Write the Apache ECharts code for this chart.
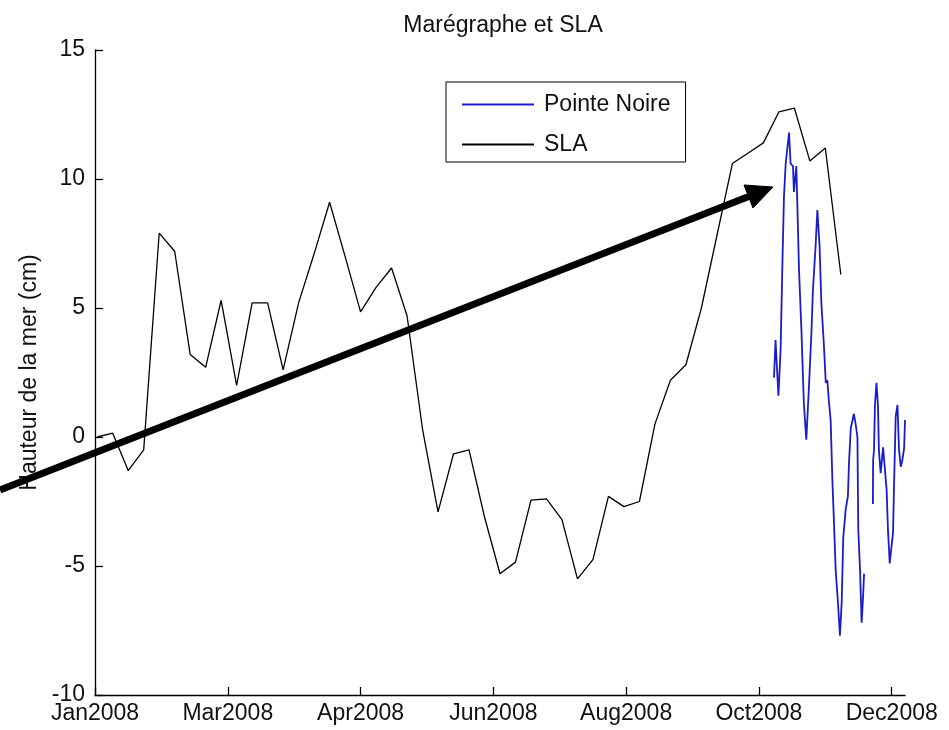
<!DOCTYPE html>
<html>
<head>
<meta charset="utf-8">
<script src="https://cdn.jsdelivr.net/npm/echarts@6/dist/echarts.min.js"></script>
<style>
  html, body { margin: 0; padding: 0; background: #fff; }
  #chart { width: 949px; height: 730px; }
</style>
</head>
<body>
<div id="chart"></div>
<script>
// ---- data (days since 1 Jan 2008) ----
var tickDays = [0, 60, 120, 180, 240, 300, 360];
var tickLabels = ['Jan2008', 'Mar2008', 'Apr2008', 'Jun2008', 'Aug2008', 'Oct2008', 'Dec2008'];

var slaDays = [1, 8, 15, 22, 29, 36, 43, 50, 57, 64, 71, 78, 85, 92, 99, 106, 113, 120, 127, 134,
  141, 148, 155, 162, 169, 176, 183, 190, 197, 204, 211, 218, 225, 232, 239, 246, 253, 260, 267,
  274, 281, 288, 295, 302, 309, 316, 323, 330, 337];
var slaValues = [0.0, 0.15, -1.3, -0.5, 7.9, 7.2, 3.2, 2.7, 5.3, 2.0, 5.2, 5.2, 2.6, 5.2, 7.1, 9.1,
  7.0, 4.85, 5.8, 6.55, 4.7, 0.3, -2.9, -0.65, -0.5, -3.1, -5.3, -4.85, -2.45, -2.4, -3.2, -5.5,
  -4.75, -2.3, -2.7, -2.5, 0.5, 2.2, 2.8, 5.0, 7.8, 10.6, 11.0, 11.4, 12.6, 12.75, 10.7, 11.2, 6.3];

var pnDays = [306.8, 307.5, 308.8, 309.8, 310.6, 311.3, 312.1, 313.6, 314.3, 315.4, 315.8, 316.9,
  317.3, 318.1, 319.2, 320.3, 321.4, 322.6, 323.7, 324.4, 325.6, 326.4, 327.4, 328.2, 329.4, 330.2,
  330.9, 331.6, 332.4, 333.2, 333.9, 334.7, 335.7, 336.6, 337.4, 338.1, 339.2, 340.2, 340.7, 341.5,
  342.9, 343.7, 344.5, 344.9, 345.7, 346.4, 347.0, 347.5, 349.5, 351.5, 351.6, 352.0, 352.4, 353.1,
  353.8, 354.2, 355.0, 356.1, 357.0, 357.7, 358.3, 359.1, 359.9, 360.6, 361.0, 361.8, 362.6, 363.3,
  364.1, 364.8, 365.6, 366.0];
var pnValues = [2.3, 3.76, 1.6, 3.4, 6.7, 9.3, 10.6, 11.8, 10.6, 10.5, 9.5, 10.5,
  9.2, 6.5, 4.15, 1.3, -0.1, 1.95, 4.0, 5.7, 7.4, 8.8, 7.4, 5.2, 3.5, 2.1,
  2.2, 1.4, 0.66, -1.7, -3.3, -5.2, -6.4, -7.7, -6.4, -3.9, -2.8, -2.3, -1.0, 0.34,
  0.9, 0.5, 0.0, -3.6, -5.2, -7.2, -6.3, -5.3, null, -2.6, -0.9, -0.5, 1.2, 2.1,
  1.2, -0.5, -1.4, -0.4, -0.4, -2.05, -3.6, -4.9, -4.25, -3.7, -2.05, 0.8, 1.24, -0.5,
  -1.15, -0.9, -0.44, 0.66];

var titleText = 'Marégraphe et SLA';
var yName = 'Hauteur de la mer (cm)';
var seriesNames = ['Pointe Noire', 'SLA'];

function pairs(xs, ys) {
  return xs.map(function (x, i) { return [x, ys[i] === null ? '-' : ys[i]]; });
}

var FONT = '"Liberation Sans", Arial, sans-serif';
var chart = echarts.init(document.getElementById('chart'), null, { renderer: 'canvas' });

chart.setOption({
  backgroundColor: '#ffffff',
  animation: false,
  textStyle: { fontFamily: FONT },
  title: {
    text: titleText,
    left: 498,
    top: 9,
    textAlign: 'center',
    textStyle: { fontFamily: FONT, fontSize: 23, fontWeight: 'normal', color: '#111' }
  },
  legend: {
    orient: 'vertical',
    left: 446,
    top: 82,
    padding: [11, 15, 6, 16],
    icon: 'rect',
    itemWidth: 72,
    itemHeight: 2,
    itemGap: 17,
    borderColor: '#000',
    borderWidth: 1,
    borderRadius: 0,
    backgroundColor: '#fff',
    textStyle: { fontFamily: FONT, fontSize: 23, color: '#111', padding: [0, 0, 0, 5] },
    data: seriesNames
  },
  grid: { left: 95, top: 50, width: 810, height: 645, containLabel: false },
  xAxis: {
    type: 'value',
    min: 0,
    max: 366,
    interval: 60,
    axisLine: { show: true, onZero: false, lineStyle: { color: '#000', width: 1.3 } },
    axisTick: { show: true, inside: true, length: 8, customValues: tickDays, lineStyle: { color: '#000', width: 1.3 } },
    axisLabel: {
      customValues: tickDays,
      margin: 7,
      fontFamily: FONT, fontSize: 23, color: '#111',
      formatter: function (v) {
        var i = tickDays.indexOf(Math.round(v));
        return i >= 0 ? tickLabels[i] : '';
      }
    },
    splitLine: { show: false }
  },
  yAxis: {
    type: 'value',
    min: -10,
    max: 15,
    interval: 5,
    name: yName,
    nameLocation: 'middle',
    nameGap: 52,
    nameTextStyle: { fontFamily: FONT, fontSize: 23, color: '#111' },
    axisLine: { show: true, onZero: false, lineStyle: { color: '#000', width: 1.3 } },
    axisTick: { show: true, inside: true, length: 8, lineStyle: { color: '#000', width: 1.3 } },
    axisLabel: { margin: 10, fontFamily: FONT, fontSize: 23, color: '#111' },
    splitLine: { show: false }
  },
  series: [
    {
      name: seriesNames[0],
      type: 'line',
      data: pairs(pnDays, pnValues),
      symbol: 'none',
      connectNulls: false,
      lineStyle: { color: '#1c1cc8', width: 1.8 },
      itemStyle: { color: '#1c1cc8' },
      z: 3
    },
    {
      name: seriesNames[1],
      type: 'line',
      data: pairs(slaDays, slaValues),
      symbol: 'none',
      lineStyle: { color: '#000', width: 1.3 },
      itemStyle: { color: '#000' },
      z: 2
    }
  ],
  graphic: [
    {
      type: 'line',
      z: 100,
      shape: { x1: 0, y1: 490, x2: 750, y2: 196 },
      style: { stroke: '#000', lineWidth: 7 }
    },
    {
      type: 'polygon',
      z: 100,
      shape: { points: [[773, 187], [753, 208], [744, 185]] },
      style: { fill: '#000', stroke: '#000', lineWidth: 1 }
    }
  ]
});
</script>
</body>
</html>
